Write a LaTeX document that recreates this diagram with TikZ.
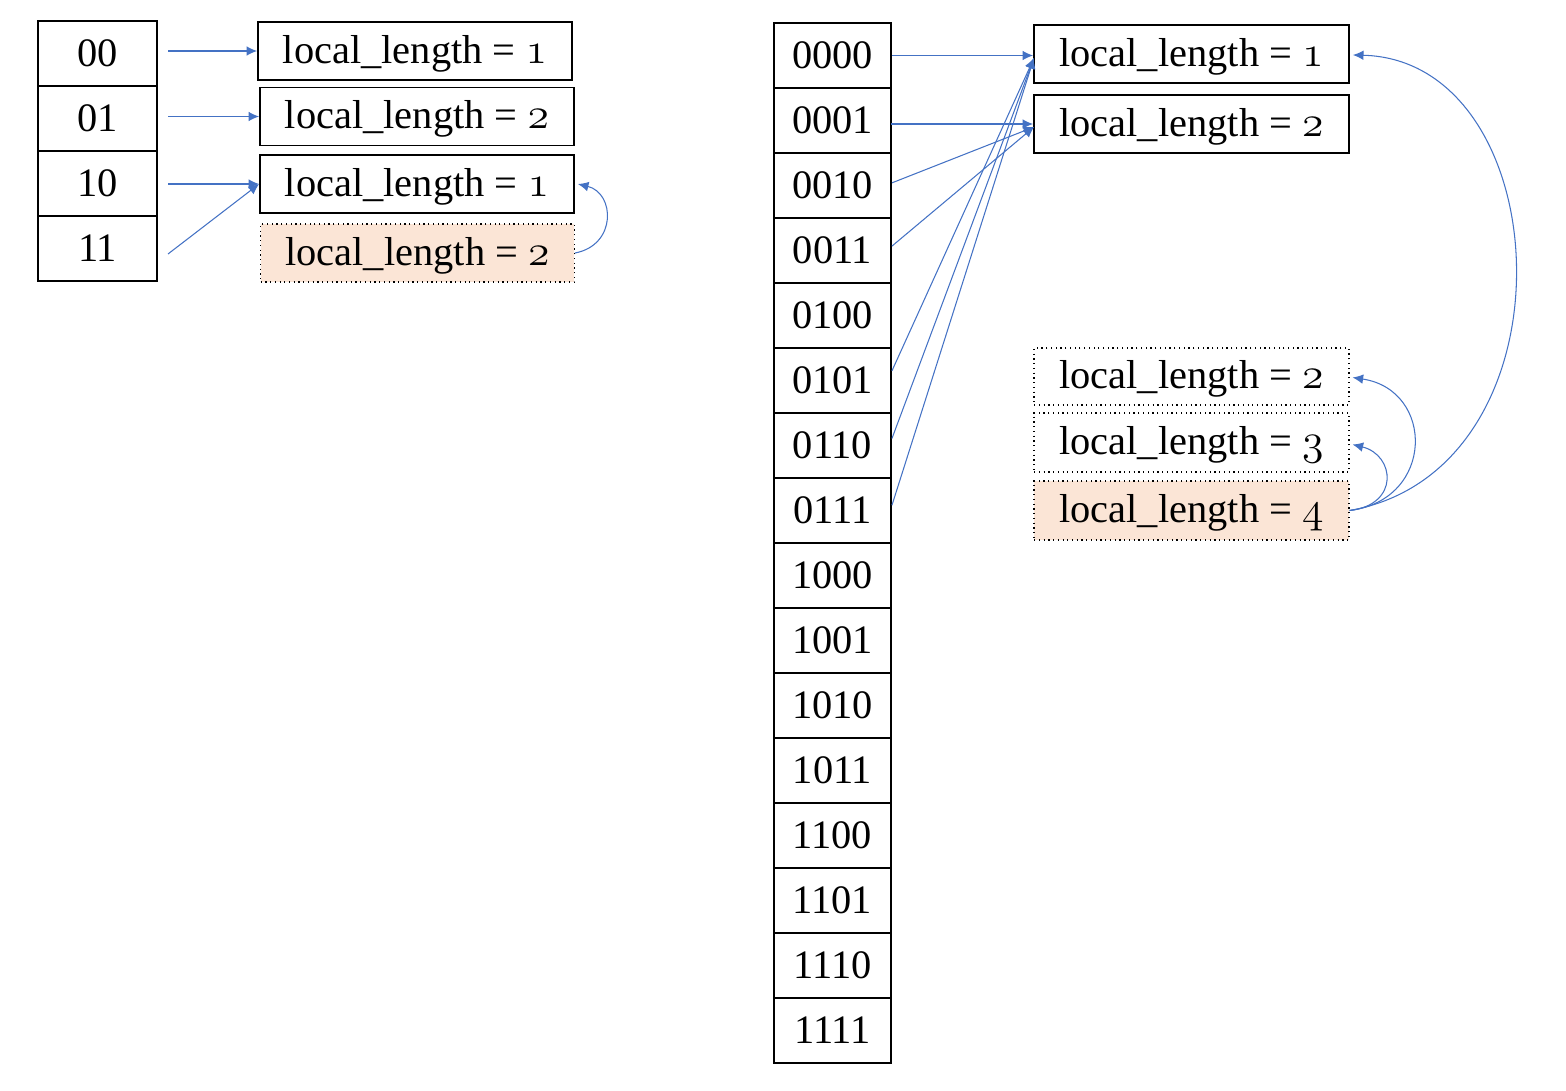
\documentclass[tikz,border=0pt]{standalone}
\usepackage{fontspec}
\setmainfont{Liberation Serif}
\usetikzlibrary{arrows.meta,calc}
\definecolor{arrowblue}{HTML}{4472C4}
\definecolor{peach}{HTML}{FBE5D6}
\newcommand\osn[1]{{\fontencoding{OML}\fontfamily{lmm}\fontseries{b}\fontshape{it}\selectfont #1}}
\newcommand\lentext[1]{local\_length = \osn{#1}}
\tikzset{
  cellL/.style={draw=black, line width=1.1pt, minimum width=2.38cm, minimum height=1.3cm, inner sep=0pt, font=\fontsize{23}{26}\selectfont},
  cellR/.style={draw=black, line width=1.1pt, minimum width=2.34cm, minimum height=1.3cm, inner sep=0pt, font=\fontsize{23}{26}\selectfont},
  bucket/.style={draw=black, line width=1.1pt, minimum width=6.28cm, minimum height=1.16cm, inner sep=0pt, font=\fontsize{23}{26}\selectfont, text depth=2pt},
  newbucket/.style={bucket, line width=0.7pt, dotted},
  ptr/.style={draw=arrowblue, line width=0.6pt, -{Latex[length=6pt,width=5.5pt]}},
}
\begin{document}
\begin{tikzpicture}[x=0.02cm, y=-0.02cm]
\useasboundingbox (0,0) rectangle (1566,1091);
% left directory
\node[cellL] (a00) at (97.5,53.5) {00};
\node[cellL] (a01) at (97.5,118.5) {01};
\node[cellL] (a10) at (97.5,183.5) {10};
\node[cellL] (a11) at (97.5,248.5) {11};
% left buckets
\node[bucket] (b1) at (415,51) {\lentext{1}};
\node[bucket] (b2) at (417,116.5) {\lentext{2}};
\node[bucket] (b3) at (417,184) {\lentext{1}};
\node[newbucket, fill=peach] (b4) at (417.5,253) {\lentext{2}};
\coordinate (s00) at (168,51);
\coordinate (s01) at (168,116.5);
\coordinate (s10) at (168,184);
\coordinate (s11) at (168,254);
\draw[ptr] (s00) -- (s00 -| b1.west);
\draw[ptr] (s01) -- (s01 -| b2.west);
\draw[ptr] (s10) -- (s10 -| b3.west);
\draw[ptr] (s11) -- (b3.west);
\draw[ptr] (b4.east) .. controls (617,245) and (615,193) .. ($(b3.east)+(3,0)$);
% right directory
\foreach \lab [count=\i from 0] in {0000,0001,0010,0011,0100,0101,0110,0111,1000,1001,1010,1011,1100,1101,1110,1111}{
  \node[cellR] (r\lab) at (832.5,55.5+65*\i) {\lab};
}
% right buckets
\node[bucket, minimum width=6.3cm] (A) at (1191.5,54) {\lentext{1}};
\node[bucket, minimum width=6.3cm] (B) at (1191.5,124) {\lentext{2}};
\node[newbucket, minimum width=6.3cm, minimum height=1.14cm] (C) at (1191.5,376.5) {\lentext{2}};
\node[newbucket, minimum width=6.3cm, minimum height=1.18cm] (D) at (1191.5,442.5) {\lentext{3}};
\node[newbucket, minimum width=6.3cm, minimum height=1.18cm, fill=peach] (E) at (1191.5,510.5) {\lentext{4}};
\coordinate (tA) at (1034,58);
\coordinate (tB) at (1034,127);
\coordinate (s0001) at (891,124);
\draw[ptr] (r0000.east) -- (r0000.east -| A.west);
\draw[ptr] (s0001) -- (s0001 -| B.west);
\draw[ptr] ([yshift=1.5]r0010.east) -- (tB);
\draw[ptr] ([yshift=2.5]r0011.east) -- (tB);
\draw[ptr] ([yshift=5.5]r0101.east) -- (tA);
\draw[ptr] ([yshift=4]r0110.east) -- (tA);
\draw[ptr] ([yshift=3]r0111.east) -- (tA);
\draw[ptr] (E.east) .. controls (1580,470) and (1560,60) .. ($(A.east)+(3,1)$);
\draw[ptr] (E.east) .. controls (1435,500) and (1435,390) .. ($(C.east)+(3,1)$);
\draw[ptr] (E.east) .. controls (1400,505) and (1395,455) .. ($(D.east)+(3,2)$);
\end{tikzpicture}
\end{document}
